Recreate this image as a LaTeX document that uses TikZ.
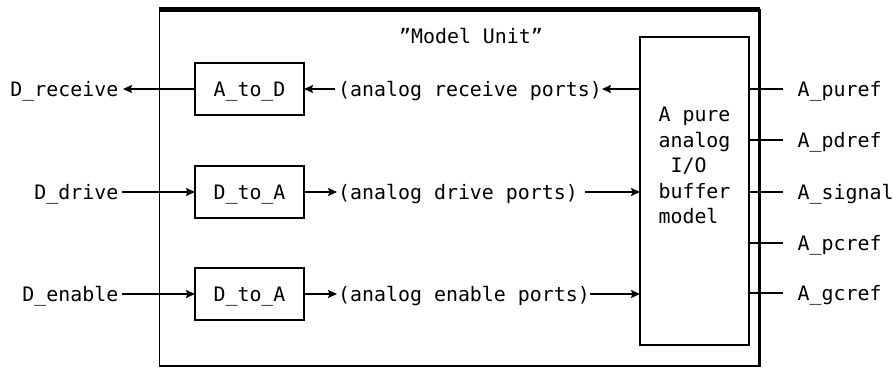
\documentclass[tikz,border=0pt]{standalone}
\usepackage{fontspec}
\setmainfont{DejaVu Sans Mono}
\usetikzlibrary{arrows.meta}
\begin{document}
\begin{tikzpicture}[x=1pt,y=-1pt,
  font=\fontsize{19.9pt}{25.5pt}\selectfont,
  txt/.style={inner sep=0pt, text height=14.5pt, text depth=0pt},
  blk/.style={draw, line width=1.6pt, minimum width=109pt, minimum height=52pt, inner sep=0pt, outer sep=0pt, text height=14.5pt, text depth=0pt},
  wire/.style={line width=1.5pt},
  arr/.style={line width=1.5pt, -{Stealth[length=9pt,width=8pt,inset=1.5pt]}}]
\useasboundingbox (0,0) rectangle (893,368);
% outer unit
\node[draw, line width=1.6pt, minimum width=600.2pt, minimum height=356.8pt, anchor=north west, inner sep=0pt, outer sep=0pt] (unit) at (159.3,9.2) {};
\draw[line width=5pt] (unit.north west) -- (unit.north east);
\draw[line width=2.7pt] (unit.north east) -- (unit.south east) -- (unit.south west);
\node[txt] (title) at (471,36.5) {\symbol{34}Model Unit\symbol{34}};
% converter boxes
\node[blk] (atod) at (249.5,89) {A\_to\_D};
\node[blk] (dtoa1) at (249.5,192) {D\_to\_A};
\node[blk] (dtoa2) at (249.5,294) {D\_to\_A};
% buffer
\node[draw, line width=1.6pt, minimum width=109pt, minimum height=308pt, inner sep=0pt, outer sep=0pt] (buf) at (694.5,191) {};
\node[align=left, inner sep=0pt] (buftxt) at (694.5,165.5) {A pure\\analog\\\phantom{A}I/O\\buffer\\model};
% left labels
\node[txt, anchor=east] (drecv) at (118.5,89) {D\_receive};
\node[txt, anchor=east] (ddrive) at (118.5,192) {D\_drive};
\node[txt, anchor=east] (denable) at (118.5,294) {D\_enable};
% middle labels
\node[txt, anchor=west] (arecv) at (338,89) {(analog receive ports)};
\node[txt, anchor=west] (adrive) at (338,192) {(analog drive ports)};
\node[txt, anchor=west] (aenable) at (338,294) {(analog enable ports)};
% right labels
\node[txt, anchor=west] (puref) at (797.5,89) {A\_puref};
\node[txt, anchor=west] (pdref) at (797.5,140) {A\_pdref};
\node[txt, anchor=west] (signal) at (797.5,192) {A\_signal};
\node[txt, anchor=west] (pcref) at (797.5,243) {A\_pcref};
\node[txt, anchor=west] (gcref) at (797.5,293) {A\_gcref};
% connectors row 1
\draw[arr, shorten >=4.5pt] (atod.west) -- (drecv.east);
\draw[arr, shorten <=3pt] (arecv.west) -- (atod.east);
\draw[arr] (buf.west |- arecv.east) -- (arecv.east);
% row 2
\draw[arr, shorten <=3.5pt] (ddrive.east) -- (dtoa1.west);
\draw[arr, shorten >=1pt] (dtoa1.east) -- (adrive.west);
\draw[arr, shorten <=7pt] (adrive.east) -- (buf.west |- adrive.east);
% row 3
\draw[arr, shorten <=3.5pt] (denable.east) -- (dtoa2.west);
\draw[arr, shorten >=1pt] (dtoa2.east) -- (aenable.west);
\draw[arr] (aenable.east) -- (buf.west |- aenable.east);
% right ticks
\foreach \p in {puref,pdref,signal,pcref,gcref}
  \draw[wire, shorten >=14.5pt] (buf.east |- \p.west) -- (\p.west);
\end{tikzpicture}
\end{document}
